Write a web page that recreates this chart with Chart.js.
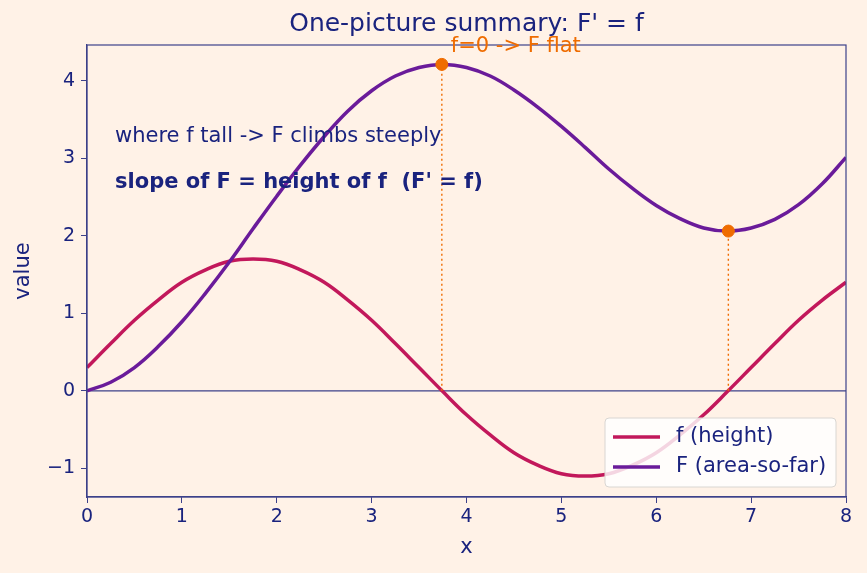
<!DOCTYPE html>
<html>
<head>
<meta charset="utf-8">
<script src="https://cdn.jsdelivr.net/npm/chart.js@4/dist/chart.umd.min.js"></script>
<style>
  html, body { margin: 0; padding: 0; background: #fff2e7; }
  canvas { display: block; }
</style>
</head>
<body>
<canvas id="chart" width="867" height="573"></canvas>
<script>
// values
const xs = [0, 0.25, 0.5, 0.75, 1, 1.25, 1.5, 1.75, 2, 2.25, 2.5, 2.75, 3, 3.25, 3.5, 3.75, 4,
  4.25, 4.5, 4.75, 5, 5.25, 5.5, 5.75, 6, 6.25, 6.5, 6.75, 7, 7.25, 7.5, 7.75, 8];
const fVals = [0.30, 0.61, 0.91, 1.17, 1.40, 1.56, 1.67, 1.70, 1.67, 1.56, 1.40, 1.17, 0.91, 0.61, 0.30, -0.01, -0.31,
  -0.57, -0.80, -0.96, -1.07, -1.10, -1.07, -0.96, -0.80, -0.57, -0.31, -0.01, 0.30, 0.61, 0.91, 1.17, 1.40];
const FVals = [0, 0.11, 0.30, 0.57, 0.89, 1.26, 1.66, 2.09, 2.51, 2.91, 3.28, 3.61, 3.87, 4.06, 4.17, 4.21, 4.17,
  4.06, 3.88, 3.66, 3.41, 3.14, 2.86, 2.61, 2.39, 2.22, 2.10, 2.06, 2.10, 2.21, 2.40, 2.67, 3.01];
const flatX = [3.74, 6.76];
const flatY = [4.21, 2.06];
const xTicks = [0, 1, 2, 3, 4, 5, 6, 7, 8];
const yTicks = [-1, 0, 1, 2, 3, 4];

const NAVY = '#1a237e';
const SPINE = '#3d418a';
const C_F = '#c2185b';
const C_BIG = '#6a1b9a';
const ORANGE = '#ef6c00';
const FONT = '"DejaVu Sans", sans-serif';

const pts = (ys) => xs.map((x, i) => ({ x, y: ys[i] }));

// higher order is drawn first, so the markers (order 0) end up on top
const datasets = [
  { label: 'f (height)', data: pts(fVals), borderColor: C_F, borderWidth: 3.5, pointRadius: 0, tension: 0.4, order: 3 },
  { label: 'F (area-so-far)', data: pts(FVals), borderColor: C_BIG, borderWidth: 3.5, pointRadius: 0, tension: 0.4, order: 2 }
];
flatX.forEach((x, i) => {
  datasets.push({ label: 'drop', data: [{ x, y: 0 }, { x, y: flatY[i] }], borderColor: ORANGE, borderWidth: 1.4,
    borderDash: [2, 3], pointRadius: 0, order: 1 });
});
datasets.push({ label: 'flat', type: 'scatter', data: flatX.map((x, i) => ({ x, y: flatY[i] })),
  backgroundColor: ORANGE, borderColor: ORANGE, pointRadius: 6, showLine: false, order: 0 });

const decor = {
  id: 'decor',
  beforeDraw(chart) {
    const c = chart.ctx;
    c.save();
    c.fillStyle = '#fff2e7';
    c.fillRect(0, 0, chart.width, chart.height);
    c.restore();
  },
  beforeDatasetsDraw(chart) {
    const c = chart.ctx, a = chart.chartArea, ys = chart.scales.y;
    c.save();
    c.strokeStyle = SPINE; c.lineWidth = 1.2;
    const y0 = ys.getPixelForValue(0);
    c.beginPath(); c.moveTo(a.left, y0); c.lineTo(a.right, y0); c.stroke();
    c.restore();
  },
  afterDraw(chart) {
    const c = chart.ctx, a = chart.chartArea, xsc = chart.scales.x;
    c.save();
    // spines
    c.strokeStyle = SPINE; c.lineWidth = 1.2;
    c.strokeRect(a.left, a.top, a.right - a.left, a.bottom - a.top);
    // title
    c.fillStyle = NAVY; c.textAlign = 'center'; c.textBaseline = 'middle';
    c.font = '25px ' + FONT;
    c.fillText("One-picture summary: F' = f", (a.left + a.right) / 2, 24);
    // axis titles
    c.font = '21px ' + FONT;
    c.fillText('x', (a.left + a.right) / 2, 548);
    c.save(); c.translate(24, (a.top + a.bottom) / 2); c.rotate(-Math.PI / 2);
    c.fillText('value', 0, 0); c.restore();
    // notes
    c.textAlign = 'left';
    c.font = '21px ' + FONT;
    c.fillText('where f tall -> F climbs steeply', 115, 137);
    c.font = 'bold 21px ' + FONT;
    c.fillText("slope of F = height of f  (F' = f)", 115, 183);
    c.fillStyle = ORANGE; c.font = '21px ' + FONT;
    c.fillText('f=0 -> F flat', xsc.getPixelForValue(flatX[0]) + 9, 47);
    // legend
    const lx = 605, ly = 418, lw = 231, lh = 69;
    c.beginPath();
    c.roundRect(lx, ly, lw, lh, 4);
    c.fillStyle = 'rgba(255,255,255,0.82)'; c.fill();
    c.strokeStyle = '#d9d6d2'; c.lineWidth = 1; c.stroke();
    [[C_F, 'f (height)', 437], [C_BIG, 'F (area-so-far)', 467]].forEach(([col, txt, yy]) => {
      c.strokeStyle = col; c.lineWidth = 3.5;
      c.beginPath(); c.moveTo(613, yy); c.lineTo(660, yy); c.stroke();
      c.fillStyle = NAVY; c.font = '21px ' + FONT; c.textAlign = 'left';
      c.fillText(txt, 676, yy);
    });
    c.restore();
  }
};

const tickFmt = v => (v < 0 ? '\u2212' + Math.abs(v) : String(v));

new Chart(document.getElementById('chart'), {
  type: 'line',
  data: { datasets },
  options: {
    responsive: false,
    animation: false,
    events: [],
    layout: { padding: { left: 0, right: 21, top: 45, bottom: 0 } },
    plugins: { legend: { display: false }, tooltip: { enabled: false }, title: { display: false } },
    scales: {
      x: {
        type: 'linear', min: 0, max: 8,
        afterBuildTicks: s => { s.ticks = xTicks.map(v => ({ value: v })); },
        afterFit: s => { s.height = 76; },
        grid: { drawOnChartArea: false, drawTicks: true, tickLength: 6, color: SPINE },
        border: { display: true, color: SPINE, width: 1.2 },
        ticks: { color: NAVY, font: { family: FONT, size: 19 }, padding: 3, maxRotation: 0, callback: tickFmt }
      },
      y: {
        type: 'linear', min: -1.37, max: 4.46,
        afterBuildTicks: s => { s.ticks = yTicks.map(v => ({ value: v })); },
        afterFit: s => { s.width = 87; },
        grid: { drawOnChartArea: false, drawTicks: true, tickLength: 6, color: SPINE },
        border: { display: true, color: SPINE, width: 1.2 },
        ticks: { color: NAVY, font: { family: FONT, size: 19 }, padding: 6, callback: tickFmt }
      }
    }
  },
  plugins: [decor]
});
</script>
</body>
</html>
